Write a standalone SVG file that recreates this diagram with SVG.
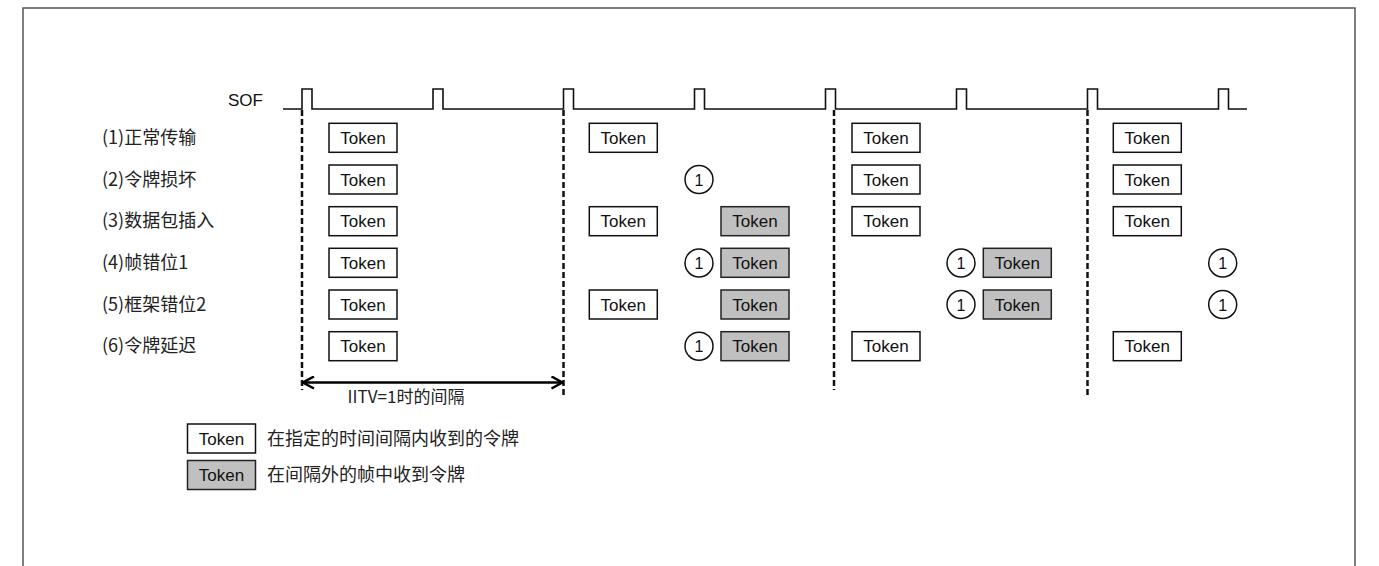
<svg xmlns="http://www.w3.org/2000/svg" width="1379" height="566" viewBox="0 0 1379 566">
<style>
.lat{font-family:"Liberation Sans",Arial,sans-serif;font-size:17px;fill:#111}
.cjk{font-family:"Noto Sans CJK SC","Liberation Sans",sans-serif;font-size:18px;fill:#222}
.tw{fill:#fff;stroke:#111;stroke-width:1.5}
.tg{fill:#c0c0c0;stroke:#222;stroke-width:1.5}
.tt{font-family:"Liberation Sans",Arial,sans-serif;font-size:17px;fill:#111;text-anchor:middle}
.c{fill:#fff;stroke:#111;stroke-width:1.5}
.ct{font-family:"Liberation Sans",Arial,sans-serif;font-size:16px;fill:#111;text-anchor:middle}
.dash{stroke:#111;stroke-width:2.5;stroke-dasharray:6 3;fill:none}
</style>
<defs>
<g id="tokW"><rect class="tw" x="0" y="0" width="68" height="29"/><text class="tt" x="34" y="20.5">Token</text></g>
<g id="tokG"><rect class="tg" x="0" y="0" width="68" height="29"/><text class="tt" x="34" y="20.5">Token</text></g>
<g id="one"><circle class="c" cx="0" cy="0" r="14"/><text class="ct" x="0" y="6">1</text></g>
<marker id="ah" viewBox="0 0 14 14" refX="13" refY="7" markerWidth="14" markerHeight="14" markerUnits="userSpaceOnUse" orient="auto-start-reverse"><path d="M2,1 L13,7 L2,13" fill="none" stroke="#000" stroke-width="2.5"/></marker>
</defs>
<rect width="1379" height="566" fill="#fff"/>
<path d="M23,566 V8 H1355 V566" fill="none" stroke="#555" stroke-width="1.5"/>

<g id="sof">
<text class="lat" x="228" y="105.5">SOF</text>
<path d="M283,109 H302 V89 H312 V109 H433 V89 H443 V109 H563.5 V89 H573.5 V109 H694.5 V89 H704.5 V109 H825.5 V89 H835.5 V109 H956.5 V89 H966.5 V109 H1087.5 V89 H1097.5 V109 H1218.5 V89 H1228.5 V109 H1247" fill="none" stroke="#111" stroke-width="1.6"/>
</g>

<g id="labels">
<text class="cjk" x="102" y="144">(1)正常传输</text>
<text class="cjk" x="102" y="185.5">(2)令牌损坏</text>
<text class="cjk" x="102" y="227">(3)数据包插入</text>
<text class="cjk" x="102" y="269">(4)帧错位1</text>
<text class="cjk" x="102" y="310.5">(5)框架错位2</text>
<text class="cjk" x="102" y="352">(6)令牌延迟</text>
</g>

<g id="connectors">
<line class="dash" x1="302" y1="110" x2="302" y2="390"/>
<line class="dash" x1="563.5" y1="110" x2="563.5" y2="397"/>
<line class="dash" x1="834" y1="110" x2="834" y2="390"/>
<line class="dash" x1="1087.5" y1="110" x2="1087.5" y2="397"/>
<line x1="303" y1="382.5" x2="562.5" y2="382.5" stroke="#000" stroke-width="2.5" marker-start="url(#ah)" marker-end="url(#ah)"/>
</g>
<text id="iitv" class="cjk" x="406" y="402.5" text-anchor="middle" style="font-size:17px">IITV=1时的间隔</text>

<g id="row1">
<use href="#tokW" x="329" y="123.3"/>
<use href="#tokW" x="589.3" y="123.3"/>
<use href="#tokW" x="852" y="123.3"/>
<use href="#tokW" x="1113.3" y="123.3"/>
</g>
<g id="row2">
<use href="#tokW" x="329" y="165"/>
<use href="#one" x="699" y="179.5"/>
<use href="#tokW" x="852" y="165"/>
<use href="#tokW" x="1113.3" y="165"/>
</g>
<g id="row3">
<use href="#tokW" x="329" y="206.7"/>
<use href="#tokW" x="589.3" y="206.7"/>
<use href="#tokG" x="721" y="206.7"/>
<use href="#tokW" x="852" y="206.7"/>
<use href="#tokW" x="1113.3" y="206.7"/>
</g>
<g id="row4">
<use href="#tokW" x="329" y="248.3"/>
<use href="#one" x="699" y="263"/>
<use href="#tokG" x="721" y="248.3"/>
<use href="#one" x="961" y="263"/>
<use href="#tokG" x="983.3" y="248.3"/>
<use href="#one" x="1222.7" y="263"/>
</g>
<g id="row5">
<use href="#tokW" x="329" y="290"/>
<use href="#tokW" x="589.3" y="290"/>
<use href="#tokG" x="721" y="290"/>
<use href="#one" x="961" y="304.5"/>
<use href="#tokG" x="983.3" y="290"/>
<use href="#one" x="1222.7" y="304.5"/>
</g>
<g id="row6">
<use href="#tokW" x="329" y="331.7"/>
<use href="#one" x="699" y="346.2"/>
<use href="#tokG" x="721" y="331.7"/>
<use href="#tokW" x="852" y="331.7"/>
<use href="#tokW" x="1113.3" y="331.7"/>
</g>

<g id="legend">
<use href="#tokW" x="187.5" y="424"/>
<text class="cjk" x="267" y="444.5">在指定的时间间隔内收到的令牌</text>
<use href="#tokG" x="187.5" y="460.5"/>
<text class="cjk" x="267" y="481">在间隔外的帧中收到令牌</text>
</g>
</svg>
